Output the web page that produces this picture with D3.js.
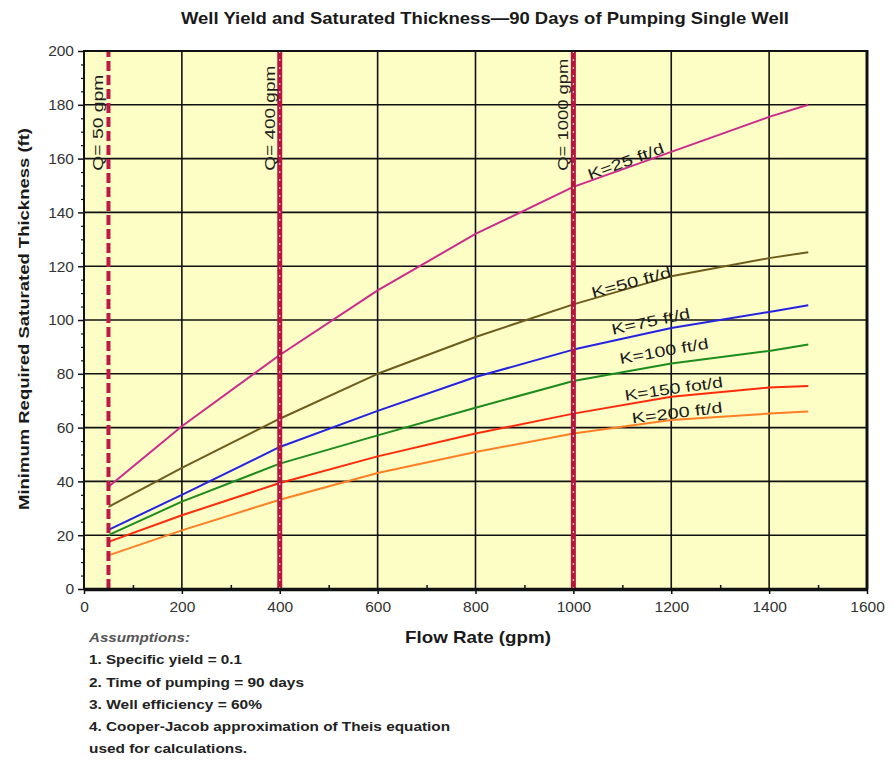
<!DOCTYPE html>
<html>
<head>
<meta charset="utf-8">
<script src="https://cdn.jsdelivr.net/npm/d3@7"></script>
<style>
  html, body { margin: 0; padding: 0; background: #ffffff; }
  svg { display: block; font-family: "Liberation Sans", Arial, sans-serif; }
</style>
</head>
<body>
<svg id="chart" width="892" height="763"></svg>
<script>
// ---------------- data ----------------
const flowRates = [50, 200, 400, 600, 800, 1000, 1200, 1400, 1480];
const k25  = [38, 60.5, 87, 111, 132, 149.5, 162.5, 175.5, 180];
const k50  = [30.5, 45, 63.3, 80, 93.7, 105.8, 116.3, 123, 125.2];
const k75  = [22, 35, 52.8, 66.2, 78.8, 89, 97, 103, 105.5];
const k100 = [20, 32.5, 46.6, 57.1, 67.4, 77.3, 83.8, 88.5, 90.9];
const k150 = [17.5, 27.4, 39.4, 49.3, 57.8, 65.2, 71.5, 74.9, 75.5];
const k200 = [12.5, 21.8, 33.2, 43.1, 50.9, 57.8, 62.8, 65.2, 66];
const seriesNames = ["K=25 ft/d", "K=50 ft/d", "K=75 ft/d", "K=100 ft/d", "K=150 fot/d", "K=200 ft/d"];
const qLines = [50, 400, 1000];
const qLabels = ["Q= 50 gpm", "Q= 400 gpm", "Q= 1000 gpm"];
const xTicks = [0, 200, 400, 600, 800, 1000, 1200, 1400, 1600];
const yTicks = [0, 20, 40, 60, 80, 100, 120, 140, 160, 180, 200];
const titleText = "Well Yield and Saturated Thickness\u201490 Days of Pumping Single Well";
const xTitle = "Flow Rate (gpm)";
const yTitle = "Minimum Required Saturated Thickness (ft)";
const notes = ["Assumptions:", "1. Specific yield = 0.1", "2. Time of pumping = 90 days",
  "3. Well efficiency = 60%", "4. Cooper-Jacob approximation of Theis equation", "used for calculations."];

// ---------------- styles / placement ----------------
const seriesColors = ["#cc2a8c", "#6e5c1c", "#2424e0", "#1c8c1c", "#ff2a0a", "#ff7f24"];
const labelPos = [
  {x: 1107, y: 159, r: -20, len: 80},
  {x: 1118, y: 114, r: -15, len: 82},
  {x: 1158, y: 99.5, r: -12, len: 80},
  {x: 1185, y: 88.5, r: -10, len: 90},
  {x: 1205, y: 74.5, r: -8, len: 99},
  {x: 1212, y: 65.5, r: -7, len: 91}
];
const qLabelLen = [96, 105, 112];
const noteLen = [101, 153, 215, 173, 361, 158];
const noteY = [641.5, 664, 686.5, 709, 731, 753];

const W = 892, H = 763;
const m = {left: 84, right: 25, top: 51, bottom: 174};
const svg = d3.select("#chart");

const x = d3.scaleLinear().domain([0, 1600]).range([m.left, W - m.right]);
const y = d3.scaleLinear().domain([0, 200]).range([H - m.bottom, m.top]);

// plot background
svg.append("rect")
  .attr("x", x(0)).attr("y", y(200))
  .attr("width", x(1600) - x(0)).attr("height", y(0) - y(200))
  .attr("fill", "#fdfdc6");

// grid
const grid = svg.append("g");
grid.selectAll(".gy").data(yTicks.filter(d => d > 0 && d < 200)).join("line")
  .attr("x1", x(0)).attr("x2", x(1600))
  .attr("y1", d => y(d)).attr("y2", d => y(d))
  .attr("stroke", "#111").attr("stroke-width", 1.6);
grid.selectAll(".gx").data(xTicks.filter(d => d > 0 && d < 1600)).join("line")
  .attr("y1", y(0)).attr("y2", y(200))
  .attr("x1", d => x(d)).attr("x2", d => x(d))
  .attr("stroke", "#111").attr("stroke-width", 1.6);

// series lines
const allSeries = [k25, k50, k75, k100, k150, k200];
const line = d3.line().x(d => x(d[0])).y(d => y(d[1])).curve(d3.curveLinear);
allSeries.forEach((vals, i) => {
  svg.append("path")
    .datum(flowRates.map((f, j) => [f, vals[j]]))
    .attr("d", line)
    .attr("fill", "none")
    .attr("stroke", seriesColors[i])
    .attr("stroke-width", 2)
    .attr("stroke-linejoin", "round");
});

// Q lines
qLines.forEach((q, i) => {
  if (i === 0) {
    svg.append("line")
      .attr("x1", x(q)).attr("x2", x(q)).attr("y1", y(0)).attr("y2", y(200))
      .attr("stroke", "#c01845").attr("stroke-width", 4)
      .attr("stroke-dasharray", "10,4");
  } else {
    svg.append("line")
      .attr("x1", x(q)).attr("x2", x(q)).attr("y1", y(0)).attr("y2", y(200))
      .attr("stroke", "#b81440").attr("stroke-width", 5);
    svg.append("line")
      .attr("x1", x(q)).attr("x2", x(q)).attr("y1", y(0)).attr("y2", y(200))
      .attr("stroke", "#f6d6dc").attr("stroke-width", 1.1)
      .attr("stroke-dasharray", "2,6");
  }
  svg.append("text")
    .attr("transform", `translate(${x(q) - 5},${y(155.5)}) rotate(-90)`)
    .attr("font-size", 15)
    .attr("fill", "#222")
    .attr("textLength", qLabelLen[i]).attr("lengthAdjust", "spacingAndGlyphs")
    .text(qLabels[i]);
});

// frame
svg.append("line").attr("x1", x(0)).attr("x2", x(1600)).attr("y1", y(200)).attr("y2", y(200))
  .attr("stroke", "#111").attr("stroke-width", 2);
svg.append("line").attr("x1", x(1600)).attr("x2", x(1600)).attr("y1", y(200) - 1).attr("y2", y(0))
  .attr("stroke", "#111").attr("stroke-width", 3);
svg.append("line").attr("x1", x(0)).attr("x2", x(0)).attr("y1", y(200) - 1).attr("y2", y(0))
  .attr("stroke", "#111").attr("stroke-width", 2);

// axes
const fmt = d3.format("d");
const xAxis = svg.append("g").attr("transform", `translate(0,${y(0)})`)
  .call(d3.axisBottom(x).tickValues(xTicks).tickFormat(fmt).tickSize(5).tickSizeOuter(0).tickPadding(7));
xAxis.select(".domain").attr("stroke", "#111").attr("stroke-width", 3.5);
xAxis.selectAll(".tick line").attr("stroke", "#111").attr("stroke-width", 1.5);
xAxis.selectAll(".tick text").attr("font-size", 15.5).attr("fill", "#333")
  .attr("font-family", "Liberation Sans, Arial, sans-serif");

const xMinor = svg.append("g").attr("transform", `translate(0,${y(0)})`)
  .call(d3.axisTop(x).tickValues(d3.range(100, 1600, 200)).tickSize(4).tickFormat(""));
xMinor.select(".domain").remove();
xMinor.selectAll(".tick line").attr("stroke", "#111").attr("stroke-width", 1.5);

const yAxis = svg.append("g").attr("transform", `translate(${x(0)},0)`)
  .call(d3.axisLeft(y).tickValues(yTicks).tickFormat(fmt).tickSize(6).tickSizeOuter(0).tickPadding(4));
yAxis.select(".domain").remove();
yAxis.selectAll(".tick line").attr("stroke", "#111").attr("stroke-width", 1.5);
yAxis.selectAll(".tick text").attr("font-size", 15.5).attr("fill", "#333")
  .attr("font-family", "Liberation Sans, Arial, sans-serif");

const yMinor = svg.append("g").attr("transform", `translate(${x(0)},0)`)
  .call(d3.axisLeft(y).tickValues(d3.range(5, 200, 5).filter(d => d % 20 !== 0)).tickSize(3).tickFormat(""));
yMinor.select(".domain").remove();
yMinor.selectAll(".tick line").attr("stroke", "#111").attr("stroke-width", 1.2);

// curve labels
seriesNames.forEach((n, i) => {
  const p = labelPos[i];
  svg.append("text")
    .attr("transform", `translate(${x(p.x)},${y(p.y)}) rotate(${p.r})`)
    .attr("text-anchor", "middle")
    .attr("dy", "0.35em")
    .attr("font-size", 15)
    .attr("fill", "#1a1a1a")
    .attr("textLength", p.len).attr("lengthAdjust", "spacingAndGlyphs")
    .text(n);
});

// titles
svg.append("text")
  .attr("x", 485).attr("y", 24)
  .attr("text-anchor", "middle")
  .attr("font-size", 16.5).attr("font-weight", "bold").attr("fill", "#1a1a1a")
  .attr("textLength", 608).attr("lengthAdjust", "spacingAndGlyphs")
  .text(titleText);

svg.append("text")
  .attr("x", 478).attr("y", 643)
  .attr("text-anchor", "middle")
  .attr("font-size", 17).attr("font-weight", "bold").attr("fill", "#1a1a1a")
  .attr("textLength", 146).attr("lengthAdjust", "spacingAndGlyphs")
  .text(xTitle);

svg.append("text")
  .attr("transform", `translate(29,319) rotate(-90)`)
  .attr("text-anchor", "middle")
  .attr("font-size", 14.5).attr("font-weight", "bold").attr("fill", "#1a1a1a")
  .attr("textLength", 382).attr("lengthAdjust", "spacingAndGlyphs")
  .text(yTitle);

// assumptions
notes.forEach((t, i) => {
  svg.append("text")
    .attr("x", 89).attr("y", noteY[i])
    .attr("font-size", 13).attr("font-weight", "bold")
    .attr("font-style", i === 0 ? "italic" : "normal")
    .attr("fill", i === 0 ? "#555" : "#222")
    .attr("textLength", noteLen[i]).attr("lengthAdjust", "spacingAndGlyphs")
    .text(t);
});
</script>
</body>
</html>
